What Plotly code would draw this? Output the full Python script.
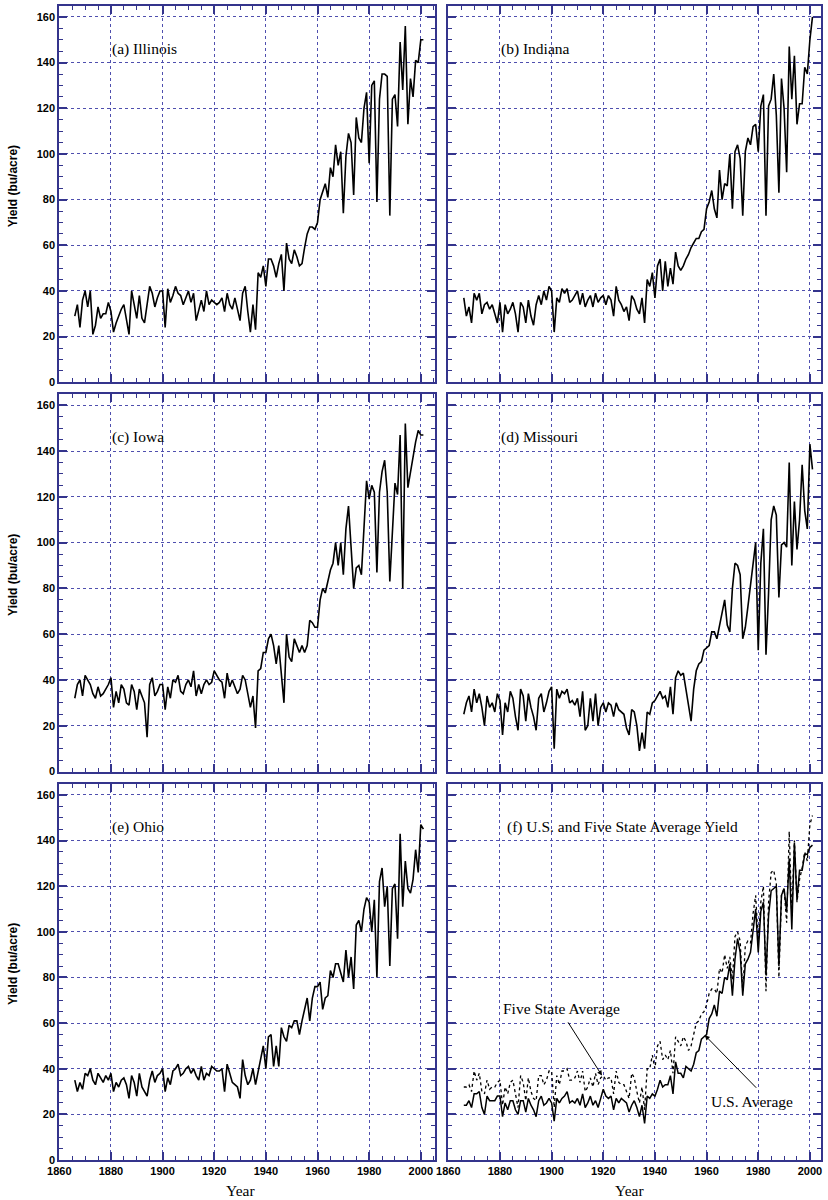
import plotly.graph_objects as go
from plotly.subplots import make_subplots

years = list(range(1866, 2002))

illinois = [29, 34, 24, 36, 40, 33, 40, 21, 25, 33,
            28, 30, 30, 35, 31, 22, 26, 29, 32, 34,
            28, 21, 40, 34, 28, 38, 28, 26, 35, 42,
            39, 33, 37, 40, 40, 24, 41, 35, 38, 42,
            39, 38, 34, 37, 40, 35, 39, 27, 31, 36,
            31, 40, 34, 36, 35, 34, 35, 37, 31, 39,
            34, 32, 37, 32, 27, 39, 42, 31, 22, 34,
            23, 48, 46, 51, 42, 54, 54, 51, 46, 52,
            56, 40, 61, 54, 52, 58, 55, 51, 52, 59,
            65, 68, 68, 67, 70, 80, 84, 87, 81, 94,
            90, 104, 95, 101, 74, 99, 109, 105, 82, 116,
            107, 105, 120, 127, 96, 130, 132, 79, 124, 135,
            135, 134, 73, 124, 126, 112, 149, 128, 156, 113,
            133, 125, 141, 140, 150, 150]

indiana = [37, 29, 33, 26, 39, 36, 39, 30, 34, 35,
           32, 34, 30, 26, 35, 22, 34, 30, 32, 35,
           30, 22, 35, 33, 26, 36, 29, 25, 34, 38,
           34, 40, 36, 42, 40, 22, 37, 35, 41, 39,
           41, 35, 36, 38, 40, 34, 39, 33, 36, 38,
           33, 39, 35, 37, 38, 34, 38, 36, 29, 42,
           36, 34, 31, 33, 27, 38, 36, 32, 30, 37,
           26, 45, 42, 48, 37, 51, 54, 40, 53, 42,
           50, 43, 57, 51, 49, 51, 54, 56, 59, 61,
           63, 63, 66, 67, 76, 79, 84, 76, 72, 93,
           80, 87, 86, 100, 76, 101, 104, 98, 73, 101,
           107, 104, 112, 113, 101, 121, 126, 73, 121, 124,
           135, 117, 83, 133, 120, 92, 147, 124, 143, 113,
           122, 122, 138, 135, 150, 160]

iowa = [32, 38, 40, 33, 42, 40, 38, 34, 32, 37,
        33, 34, 36, 38, 41, 28, 35, 30, 38, 36,
        30, 29, 38, 35, 27, 36, 33, 30, 15, 38,
        41, 33, 35, 38, 38, 27, 37, 32, 40, 39,
        42, 35, 34, 38, 40, 37, 44, 33, 38, 34,
        38, 40, 38, 39, 44, 42, 40, 39, 32, 43,
        37, 40, 37, 34, 36, 42, 40, 34, 28, 33,
        19, 44, 45, 52, 52, 58, 60, 55, 47, 55,
        41, 30, 60, 50, 48, 58, 55, 52, 55, 52,
        55, 66, 65, 63, 63, 75, 80, 78, 83, 88,
        91, 100, 90, 100, 86, 106, 116, 100, 80, 89,
        90, 86, 108, 127, 119, 125, 122, 87, 122, 131,
        136, 122, 83, 107, 126, 121, 147, 80, 152, 124,
        131, 138, 144, 149, 147, 147]

missouri = [25, 30, 33, 26, 36, 30, 34, 28, 20, 33,
            28, 30, 26, 34, 31, 16, 30, 26, 35, 32,
            24, 18, 36, 33, 22, 34, 28, 24, 18, 32,
            34, 26, 30, 35, 37, 10, 36, 32, 35, 34,
            36, 30, 31, 29, 32, 24, 35, 18, 20, 32,
            22, 34, 20, 28, 30, 26, 30, 29, 24, 30,
            27, 26, 25, 19, 16, 27, 26, 20, 9, 17,
            10, 26, 25, 30, 31, 33, 35, 32, 33, 28,
            37, 25, 41, 44, 42, 43, 36, 28, 22, 36,
            44, 47, 48, 53, 54, 55, 61, 61, 58, 64,
            69, 75, 64, 61, 80, 91, 90, 86, 58, 63,
            72, 81, 90, 100, 53, 91, 106, 51, 78, 110,
            116, 112, 76, 99, 100, 98, 135, 90, 118, 97,
            110, 134, 114, 106, 143, 132]

ohio = [35, 30, 34, 31, 38, 37, 40, 35, 33, 38,
        36, 34, 37, 35, 38, 30, 34, 32, 35, 36,
        33, 27, 37, 34, 28, 38, 32, 30, 28, 35,
        39, 34, 37, 38, 40, 30, 36, 33, 39, 40,
        42, 37, 38, 40, 41, 38, 40, 37, 35, 41,
        35, 38, 37, 41, 40, 39, 39, 40, 30, 42,
        38, 34, 33, 32, 27, 44, 37, 33, 35, 40,
        33, 39, 44, 50, 40, 54, 55, 41, 50, 41,
        58, 54, 52, 59, 58, 61, 61, 55, 61, 66,
        71, 61, 71, 76, 76, 78, 66, 71, 72, 83,
        80, 86, 86, 82, 78, 92, 80, 89, 75, 103,
        105, 100, 110, 115, 113, 100, 114, 80, 122, 128,
        111, 120, 85, 119, 121, 97, 143, 111, 131, 119,
        117, 123, 136, 126, 147, 145]

us_average = [24, 24, 26, 23, 29, 29, 30, 23, 20, 28,
              26, 26, 26, 28, 28, 19, 25, 22, 26, 26,
              22, 20, 26, 26, 21, 27, 24, 22, 19, 26,
              28, 24, 25, 27, 25, 17, 27, 25, 27, 28,
              30, 25, 26, 25, 27, 24, 29, 23, 25, 28,
              24, 26, 23, 27, 31, 28, 27, 28, 22, 27,
              25, 27, 26, 25, 21, 24, 26, 23, 19, 24,
              16, 28, 27, 29, 28, 31, 35, 32, 33, 33,
              37, 29, 43, 38, 38, 36, 41, 40, 39, 42,
              47, 48, 53, 54, 55, 62, 64, 68, 63, 74,
              73, 80, 79, 86, 72, 88, 97, 91, 72, 86,
              88, 91, 101, 110, 91, 109, 113, 81, 107, 118,
              119, 120, 85, 116, 119, 109, 132, 101, 139, 114,
              127, 127, 134, 134, 137, 138]

five_state_average = [32, 32, 33, 30, 39, 35, 38, 30, 29, 35,
                      31, 32, 32, 34, 35, 24, 32, 29, 34, 35,
                      29, 23, 37, 34, 26, 36, 30, 27, 26, 37,
                      37, 33, 35, 39, 39, 23, 37, 33, 39, 39,
                      40, 35, 35, 36, 39, 34, 39, 30, 32, 36,
                      32, 38, 33, 36, 37, 35, 36, 36, 29, 39,
                      34, 33, 33, 30, 27, 38, 36, 30, 25, 32,
                      22, 40, 40, 46, 40, 50, 52, 44, 46, 44,
                      48, 38, 54, 52, 50, 54, 52, 48, 50, 55,
                      60, 61, 64, 65, 68, 73, 75, 75, 73, 84,
                      82, 90, 84, 89, 79, 98, 100, 96, 74, 94,
                      96, 95, 108, 116, 96, 113, 120, 74, 113, 126,
                      127, 121, 80, 116, 119, 104, 144, 107, 140, 113,
                      123, 128, 135, 131, 147, 151]

panel_titles = ["(a) Illinois", "(b) Indiana", "(c) Iowa", "(d) Missouri",
                "(e) Ohio", "(f) U.S. and Five State Average Yield"]
state_series = [illinois, indiana, iowa, missouri, ohio]
x_ticks = [1860, 1880, 1900, 1920, 1940, 1960, 1980, 2000]
y_ticks = [0, 20, 40, 60, 80, 100, 120, 140, 160]

W, H = 828, 1200
AXIS_COLOR = "#34348c"
GRID_COLOR = "#4f4fae"

fig = make_subplots(rows=3, cols=2)

# panel domains (pixels -> paper)
col_px = [(59.3, 435.0), (448.3, 821.0)]
row_px = [(6.0, 382.3), (394.3, 771.5), (784.0, 1160.0)]
x_ranges = [[1860, 2005.5], [1860, 2004.3]]

tick_font = dict(family="Liberation Sans", size=11, color="black", weight="bold")

for i in range(6):
    r, c = divmod(i, 2)
    idx = i + 1
    xa = "xaxis" if idx == 1 else f"xaxis{idx}"
    ya = "yaxis" if idx == 1 else f"yaxis{idx}"
    x0, x1 = col_px[c]
    y0, y1 = row_px[r]
    fig.layout[xa].update(
        domain=[x0 / W, x1 / W], range=x_ranges[c], autorange=False,
        automargin=False,
        tickvals=x_ticks, showticklabels=(r == 2),
        ticks="inside", ticklen=8, tickwidth=1.5, tickcolor=AXIS_COLOR,
        minor=dict(dtick=5, tick0=1860, ticks="inside", ticklen=4, tickwidth=1.2,
                   tickcolor=AXIS_COLOR, showgrid=False),
        showline=True, linecolor=AXIS_COLOR, linewidth=2, mirror="ticks",
        showgrid=True, gridcolor=GRID_COLOR, griddash="dot", gridwidth=1,
        zeroline=False, tickfont=tick_font,
    )
    fig.layout[ya].update(
        domain=[1 - y1 / H, 1 - y0 / H], range=[0, 164.8], autorange=False,
        automargin=False,
        tickvals=y_ticks, showticklabels=(c == 0),
        ticks="inside", ticklen=8, tickwidth=1.5, tickcolor=AXIS_COLOR,
        minor=dict(dtick=5, tick0=0, ticks="inside", ticklen=4, tickwidth=1.2,
                   tickcolor=AXIS_COLOR, showgrid=False),
        showline=True, linecolor=AXIS_COLOR, linewidth=2, mirror="ticks",
        showgrid=True, gridcolor=GRID_COLOR, griddash="dot", gridwidth=1,
        zeroline=False, tickfont=tick_font,
    )

for i, series in enumerate(state_series):
    r, c = divmod(i, 2)
    fig.add_trace(go.Scatter(x=years, y=series, mode="lines",
                             line=dict(color="black", width=1.6),
                             showlegend=False), row=r + 1, col=c + 1)

fig.add_trace(go.Scatter(x=years, y=five_state_average, mode="lines",
                         line=dict(color="black", width=1.3, dash="dot"),
                         showlegend=False), row=3, col=2)
fig.add_trace(go.Scatter(x=years, y=us_average, mode="lines",
                         line=dict(color="black", width=1.5),
                         showlegend=False), row=3, col=2)

serif = dict(family="Liberation Serif", size=15.5, color="black")
sans_b = dict(family="Liberation Sans", size=12, color="black", weight="bold")

annotations = []
for i, t in enumerate(panel_titles):
    idx = i + 1
    xr = "x" if idx == 1 else f"x{idx}"
    yr = "y" if idx == 1 else f"y{idx}"
    annotations.append(dict(x=1879.5 if i < 5 else 1882, y=146, xref=xr, yref=yr,
                            text=t, showarrow=False, xanchor="left",
                            yanchor="middle", font=serif))

# y-axis titles
for r in range(3):
    y0, y1 = row_px[r]
    annotations.append(dict(x=13 / W, y=1 - ((y0 + y1) / 2 - 8) / H,
                            xref="paper", yref="paper", text="Yield (bu/acre)",
                            textangle=-90, showarrow=False, font=sans_b,
                            xanchor="center", yanchor="middle"))

# x-axis titles
annotations.append(dict(x=1930, y=1 - 1190 / H, xref="x5", yref="paper",
                        text="Year", showarrow=False, font=serif,
                        xanchor="center", yanchor="middle"))
annotations.append(dict(x=1930, y=1 - 1190 / H, xref="x6", yref="paper",
                        text="Year", showarrow=False, font=serif,
                        xanchor="center", yanchor="middle"))

# panel (f) labels and arrows
annotations.append(dict(x=1880.5, y=66.5, xref="x6", yref="y6",
                        text="Five State Average", showarrow=False,
                        xanchor="left", font=serif))
annotations.append(dict(x=1919.5, y=37, xref="x6", yref="y6",
                        ax=1906, ay=61, axref="x6", ayref="y6", text="",
                        showarrow=True, arrowhead=2, arrowsize=1, arrowwidth=1,
                        arrowcolor="black", standoff=0, startstandoff=0))
annotations.append(dict(x=1961, y=25.8, xref="x6", yref="y6",
                        text="U.S. Average", showarrow=False,
                        xanchor="left", font=serif))
annotations.append(dict(x=1959.3, y=54.7, xref="x6", yref="y6",
                        ax=1979.8, ay=31, axref="x6", ayref="y6", text="",
                        showarrow=True, arrowhead=2, arrowsize=1, arrowwidth=1,
                        arrowcolor="black", standoff=0, startstandoff=0))

fig.update_layout(width=W, height=H, margin=dict(l=0, r=0, t=0, b=0, pad=0, autoexpand=False),
                  paper_bgcolor="white", plot_bgcolor="white",
                  annotations=annotations, showlegend=False)

fig.write_html("out.html", config={"displayModeBar": False},
               post_script="document.body.style.margin='0';document.body.style.padding='0';")
